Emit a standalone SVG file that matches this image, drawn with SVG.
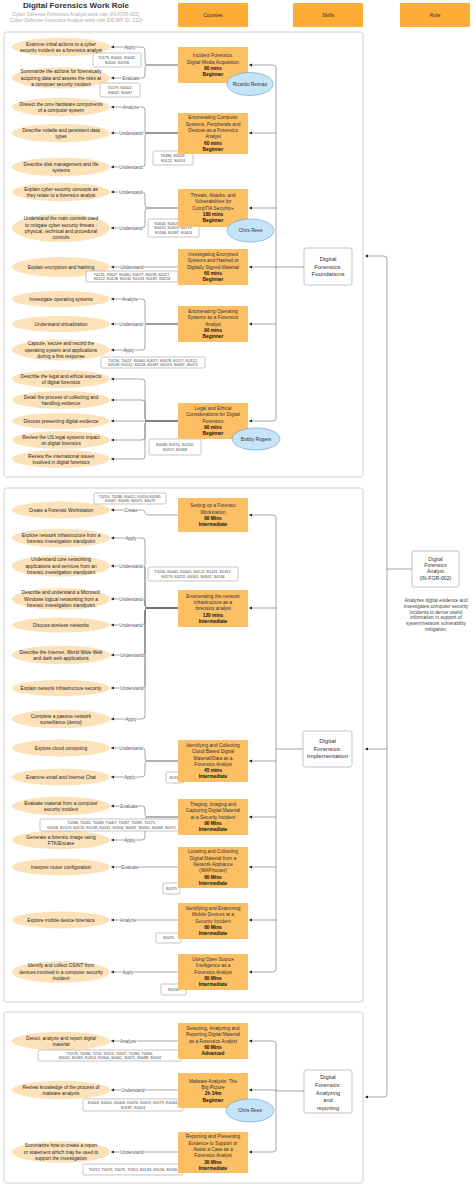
<svg xmlns="http://www.w3.org/2000/svg" width="474" height="1186" viewBox="0 0 474 1186">
<defs>
<marker id="ah" viewBox="0 0 6 6" refX="6" refY="3" markerWidth="3.2" markerHeight="3.2" markerUnits="userSpaceOnUse" orient="auto"><path d="M0,0 L6,3 L0,6 z" fill="#222"/></marker>
<style>
text{font-family:"Liberation Sans",Arial,sans-serif}
.title{font-size:8px;font-weight:bold;fill:#333;text-anchor:middle}
.sub{font-size:5px;fill:#aaa;text-anchor:middle}
.hdr{fill:#fdac35}
.hdrt{font-size:5.2px;fill:#333;text-anchor:middle}
.grp{fill:none;stroke:#c4c4c4;stroke-width:0.8}
.course{fill:#fcbf63}
.ct{font-size:4.8px;fill:#333;text-anchor:middle}
.b{font-weight:bold;fill:#111}
.oc{fill:#fde2b9}
.ot{font-size:4.8px;fill:#222;text-anchor:middle}
.lbl{font-size:4.5px;fill:#555;text-anchor:middle;paint-order:stroke;stroke:#fff;stroke-width:1.6px}
.kb{fill:#fff;stroke:#8a8a8a;stroke-width:0.5}
.kt{font-size:3.8px;fill:#444;text-anchor:middle}
.inst{fill:#c6e4f7;stroke:#5b9bd5;stroke-width:0.6}
.it{font-size:4.8px;fill:#333;text-anchor:middle}
.sk{fill:#fff;stroke:#9a9a9a;stroke-width:0.6}
.skt{font-size:6px;fill:#333;text-anchor:middle}
.rt{font-size:5.2px;fill:#333;text-anchor:middle}
.dt{font-size:4.8px;fill:#444;text-anchor:middle}
.c{fill:none;stroke:#6a6a6a;stroke-width:0.6}
.ca{fill:none;stroke:#6a6a6a;stroke-width:0.6;marker-end:url(#ah)}
</style>
</defs>
<rect width="474" height="1186" fill="#fff"/>

<g id="header">
<text class="title" x="76" y="7.8">Digital Forensics Work Role</text>
<text class="sub" x="76" y="15.7">Cyber Defense Forensics Analyst work role (IN-FOR-002)</text>
<text class="sub" x="76" y="22.4">Cyber Defense Forensics Analyst work role (DCWF ID: 212)</text>
<rect class="hdr" x="178" y="3" width="70" height="24" rx="1"/>
<text class="hdrt" x="213" y="16.8">Courses</text>
<rect class="hdr" x="293" y="3" width="70" height="24" rx="1"/>
<text class="hdrt" x="328" y="16.8">Skills</text>
<rect class="hdr" x="400" y="3" width="70" height="24" rx="1"/>
<text class="hdrt" x="435" y="16.8">Role</text>
</g>

<g id="containers">
<rect class="grp" x="4" y="32" width="359" height="445" rx="2.5"/>
<rect class="grp" x="4" y="488" width="359" height="514" rx="2.5"/>
<rect class="grp" x="4" y="1012" width="359" height="171" rx="2.5"/>
</g>

<g id="connectors">
<!-- course 1 -->
<path class="ca" d="M178,65 H148 Q145,65 145,62 V50 Q145,47 142,47 H111"/>
<path class="ca" d="M178,65 H148 Q145,65 145,68 V75 Q145,78 142,78 H111"/>
<!-- course 2 -->
<path class="ca" d="M178,133 H148 Q145,133 145,130 V110 Q145,107 142,107 H111"/>
<path class="ca" d="M178,133 H111"/>
<path class="ca" d="M178,133 H148 Q145,133 145,136 V164 Q145,167 142,167 H111"/>
<!-- course 3 -->
<path class="ca" d="M178,208 H148 Q145,208 145,205 V195 Q145,192 142,192 H111"/>
<path class="ca" d="M178,208 H148 Q145,208 145,211 V225 Q145,228 142,228 H111"/>
<!-- course 4 -->
<path class="ca" d="M178,267 H111"/>
<!-- course 5 -->
<path class="ca" d="M178,324 H148 Q145,324 145,321 V302 Q145,299 142,299 H111"/>
<path class="ca" d="M178,324 H111"/>
<path class="ca" d="M178,324 H148 Q145,324 145,327 V347 Q145,350 142,350 H111"/>
<!-- course 6 -->
<path class="ca" d="M178,421 H148 Q145,421 145,418 V382 Q145,379 142,379 H111"/>
<path class="ca" d="M178,421 H148 Q145,421 145,418 V403 Q145,400 142,400 H111"/>
<path class="ca" d="M178,421 H111"/>
<path class="ca" d="M178,421 H148 Q145,421 145,424 V437 Q145,440 142,440 H111"/>
<path class="ca" d="M178,421 H148 Q145,421 145,424 V456 Q145,459 142,459 H111"/>
<!-- course 7 -->
<path class="ca" d="M178,515 H150 Q145,515 145,512.5 Q145,510 140,510 H111"/>
<!-- course 8 -->
<path class="ca" d="M178,608 H148 Q145,608 145,605 V541 Q145,538 142,538 H111"/>
<path class="ca" d="M178,608 H148 Q145,608 145,605 V569 Q145,566 142,566 H111"/>
<path class="ca" d="M178,608 H148 Q145,608 145,605 V602 Q145,599 142,599 H111"/>
<path class="ca" d="M178,608 H148 Q145,608 145,611 V622 Q145,625 142,625 H111"/>
<path class="ca" d="M178,608 H148 Q145,608 145,611 V652 Q145,655 142,655 H111"/>
<path class="ca" d="M178,608 H148 Q145,608 145,611 V685 Q145,688 142,688 H111"/>
<path class="ca" d="M178,608 H148 Q145,608 145,611 V716 Q145,719 142,719 H111"/>
<!-- course 9 -->
<path class="ca" d="M178,761 H148 Q145,761 145,758 V751 Q145,748 142,748 H111"/>
<path class="ca" d="M178,761 H148 Q145,761 145,764 V774 Q145,777 142,777 H111"/>
<!-- course 10 -->
<path class="ca" d="M178,817 H148 Q145,817 145,814 V809 Q145,806 142,806 H111"/>
<path class="ca" d="M178,817 H148 Q145,817 145,820 V837 Q145,840 142,840 H111"/>
<!-- courses 11-16 -->
<path class="ca" d="M178,867 H111"/>
<path class="ca" d="M178,920 H111"/>
<path class="ca" d="M178,972 H111"/>
<path class="ca" d="M178,1041 H111"/>
<path class="ca" d="M178,1090 H111"/>
<path class="ca" d="M178,1152 H111"/>

<!-- labels -->
<text class="lbl" x="130" y="48.6">Apply</text>
<text class="lbl" x="131" y="79.6">Evaluate</text>
<text class="lbl" x="131" y="108.6">Analyze</text>
<text class="lbl" x="131" y="134.6">Understand</text>
<text class="lbl" x="131" y="168.6">Understand</text>
<text class="lbl" x="131" y="193.6">Understand</text>
<text class="lbl" x="131" y="229.6">Understand</text>
<text class="lbl" x="132" y="268.6">Understand</text>
<text class="lbl" x="130" y="300.6">Analyze</text>
<text class="lbl" x="131" y="325.6">Understand</text>
<text class="lbl" x="129" y="351.6">Apply</text>
<text class="lbl" x="131" y="511.6">Create</text>
<text class="lbl" x="131" y="539.6">Apply</text>
<text class="lbl" x="131" y="567.6">Understand</text>
<text class="lbl" x="131" y="600.6">Understand</text>
<text class="lbl" x="131" y="626.6">Understand</text>
<text class="lbl" x="132" y="656.6">Understand</text>
<text class="lbl" x="132" y="689.6">Understand</text>
<text class="lbl" x="131" y="720.6">Apply</text>
<text class="lbl" x="131" y="749.6">Understand</text>
<text class="lbl" x="130" y="778.6">Apply</text>
<text class="lbl" x="129" y="807.6">Evaluate</text>
<text class="lbl" x="130" y="841.6">Apply</text>
<text class="lbl" x="130" y="868.6">Evaluate</text>
<text class="lbl" x="128" y="921.6">Analyze</text>
<text class="lbl" x="128" y="973.6">Apply</text>
<text class="lbl" x="128" y="1042.6">Analyze</text>
<text class="lbl" x="133" y="1091.6">Understand</text>
<text class="lbl" x="132" y="1153.6">Understand</text>

<!-- skills to courses -->
<path class="c" d="M276,68 V418"/>
<path class="ca" d="M276,68 Q276,65 273,65 H249"/>
<path class="ca" d="M276,133 H249"/>
<path class="ca" d="M276,208 H249"/>
<path class="ca" d="M276,267 H249"/>
<path class="ca" d="M276,324 H249"/>
<path class="ca" d="M276,418 Q276,421 273,421 H249"/>
<path class="c" d="M304,267 H276"/>

<path class="c" d="M276,518 V969"/>
<path class="ca" d="M276,518 Q276,515 273,515 H249"/>
<path class="ca" d="M276,608 H249"/>
<path class="ca" d="M276,761 H249"/>
<path class="ca" d="M276,817 H249"/>
<path class="ca" d="M276,867 H249"/>
<path class="ca" d="M276,920 H249"/>
<path class="ca" d="M276,969 Q276,972 273,972 H249"/>
<path class="c" d="M303,749 H276"/>

<path class="c" d="M276,1044 V1149"/>
<path class="ca" d="M276,1044 Q276,1041 273,1041 H249"/>
<path class="ca" d="M276,1090 H249"/>
<path class="ca" d="M276,1149 Q276,1152 273,1152 H249"/>
<path class="c" d="M304,1091 H276"/>

<!-- role to skill groups -->
<path class="c" d="M387,259 V1094"/>
<path class="ca" d="M387,259 Q387,256 384,256 H365"/>
<path class="ca" d="M387,749 H365"/>
<path class="ca" d="M387,1094 Q387,1097 384,1097 H365"/>
<path class="c" d="M412,569 H387"/>
</g>

<g id="outcomes">
<g id="o1"><ellipse class="oc" cx="61" cy="47" rx="49" ry="9.2"/><text class="ot"><tspan x="61" y="45.55">Examine initial actions to a cyber</tspan><tspan x="61" y="51.85">security incident as a forensics analyst</tspan></text></g>
<g id="o2"><ellipse class="oc" cx="61" cy="78" rx="49" ry="10.5"/><text class="ot"><tspan x="61" y="73.4">Summarize the actions for forensically</tspan><tspan x="61" y="79.7">acquiring data and assess the risks at</tspan><tspan x="61" y="86">a computer security incident</tspan></text></g>
<g id="o3"><ellipse class="oc" cx="61" cy="107" rx="49" ry="9.2"/><text class="ot"><tspan x="61" y="105.55">Dissect the core hardware components</tspan><tspan x="61" y="111.85">of a computer system</tspan></text></g>
<g id="o4"><ellipse class="oc" cx="61" cy="133" rx="49" ry="9.2"/><text class="ot"><tspan x="61" y="131.55">Describe volatile and persistent data</tspan><tspan x="61" y="137.85">types</tspan></text></g>
<g id="o5"><ellipse class="oc" cx="61" cy="167" rx="49" ry="9.2"/><text class="ot"><tspan x="61" y="165.55">Describe disk management and file</tspan><tspan x="61" y="171.85">systems</tspan></text></g>
<g id="o6"><ellipse class="oc" cx="61" cy="192" rx="49" ry="9.2"/><text class="ot"><tspan x="61" y="190.55">Explain cyber security concepts as</tspan><tspan x="61" y="196.85">they relate to a forensics analyst</tspan></text></g>
<g id="o7"><ellipse class="oc" cx="61" cy="228" rx="49" ry="14"/><text class="ot"><tspan x="61" y="220.25">Understand the main controls used</tspan><tspan x="61" y="226.55">to mitigate cyber security threats -</tspan><tspan x="61" y="232.85">physical, technical and procedural</tspan><tspan x="61" y="239.15">controls</tspan></text></g>
<g id="o8"><ellipse class="oc" cx="61" cy="267" rx="49" ry="10"/><text class="ot" x="61" y="268.7">Explain encryption and hashing</text></g>
<g id="o9"><ellipse class="oc" cx="61" cy="299" rx="49" ry="8.2"/><text class="ot" x="61" y="300.7">Investigate operating systems</text></g>
<g id="o10"><ellipse class="oc" cx="61" cy="324" rx="49" ry="8.2"/><text class="ot" x="61" y="325.7">Understand virtualization</text></g>
<g id="o11"><ellipse class="oc" cx="61" cy="350" rx="49" ry="10.5"/><text class="ot"><tspan x="61" y="345.4">Capture, secure and record the</tspan><tspan x="61" y="351.7">operating system and applications</tspan><tspan x="61" y="358">during a first response</tspan></text></g>
<g id="o12"><ellipse class="oc" cx="61" cy="379" rx="49" ry="9"/><text class="ot"><tspan x="61" y="377.55">Describe the legal and ethical aspects</tspan><tspan x="61" y="383.85">of digital forensics</tspan></text></g>
<g id="o13"><ellipse class="oc" cx="61" cy="400" rx="49" ry="9"/><text class="ot"><tspan x="61" y="398.55">Detail the process of collecting and</tspan><tspan x="61" y="404.85">handling evidence</tspan></text></g>
<g id="o14"><ellipse class="oc" cx="61" cy="421" rx="49" ry="8"/><text class="ot" x="61" y="422.7">Discuss presenting digital evidence</text></g>
<g id="o15"><ellipse class="oc" cx="61" cy="440" rx="49" ry="9"/><text class="ot"><tspan x="61" y="438.55">Review the US legal systems impact</tspan><tspan x="61" y="444.85">on digital forensics</tspan></text></g>
<g id="o16"><ellipse class="oc" cx="61" cy="459" rx="49" ry="9"/><text class="ot"><tspan x="61" y="457.55">Review the international issues</tspan><tspan x="61" y="463.85">involved in digital forensics</tspan></text></g>

<g id="o17"><ellipse class="oc" cx="61" cy="510" rx="49" ry="8.5"/><text class="ot" x="61" y="511.7">Create a Forensic Workstation</text></g>
<g id="o18"><ellipse class="oc" cx="61" cy="538" rx="49" ry="9.2"/><text class="ot"><tspan x="61" y="536.55">Explore network infrastructure from a</tspan><tspan x="61" y="542.85">forensic investigation standpoint</tspan></text></g>
<g id="o19"><ellipse class="oc" cx="61" cy="566" rx="49" ry="10.8"/><text class="ot"><tspan x="61" y="561.4">Understand core networking</tspan><tspan x="61" y="567.7">applications and services from an</tspan><tspan x="61" y="574">forensic investigation standpoint</tspan></text></g>
<g id="o20"><ellipse class="oc" cx="61" cy="599" rx="49" ry="10.8"/><text class="ot"><tspan x="61" y="594.4">Describe and understand a Microsoft</tspan><tspan x="61" y="600.7">Windows logical networking from a</tspan><tspan x="61" y="607">forensic investigation standpoint</tspan></text></g>
<g id="o21"><ellipse class="oc" cx="61" cy="625" rx="49" ry="7.5"/><text class="ot" x="61" y="626.7">Discuss wireless networks</text></g>
<g id="o22"><ellipse class="oc" cx="61" cy="655" rx="49" ry="9.2"/><text class="ot"><tspan x="61" y="653.55">Describe the Internet, World Wide Web</tspan><tspan x="61" y="659.85">and dark web applications</tspan></text></g>
<g id="o23"><ellipse class="oc" cx="61" cy="688" rx="49" ry="8.2"/><text class="ot" x="61" y="689.7">Explain network infrastructure security</text></g>
<g id="o24"><ellipse class="oc" cx="61" cy="719" rx="49" ry="9.2"/><text class="ot"><tspan x="61" y="717.55">Complete a passive network</tspan><tspan x="61" y="723.85">surveillance (demo)</tspan></text></g>
<g id="o25"><ellipse class="oc" cx="61" cy="748" rx="49" ry="8.5"/><text class="ot" x="61" y="749.7">Explore cloud computing</text></g>
<g id="o26"><ellipse class="oc" cx="61" cy="777" rx="49" ry="8.5"/><text class="ot" x="61" y="778.7">Examine email and Internet Chat</text></g>
<g id="o27"><ellipse class="oc" cx="61" cy="806" rx="49" ry="9.2"/><text class="ot"><tspan x="61" y="804.55">Evaluate material from a computer</tspan><tspan x="61" y="810.85">security incident</tspan></text></g>
<g id="o28"><ellipse class="oc" cx="61" cy="840" rx="49" ry="9.2"/><text class="ot"><tspan x="61" y="838.55">Generate a forensic image using</tspan><tspan x="61" y="844.85">FTK/Encase</tspan></text></g>
<g id="o29"><ellipse class="oc" cx="61" cy="867" rx="49" ry="8.5"/><text class="ot" x="61" y="868.7">Interpret router configuration</text></g>
<g id="o30"><ellipse class="oc" cx="61" cy="920" rx="49" ry="8.5"/><text class="ot" x="61" y="921.7">Explore mobile device forensics</text></g>
<g id="o31"><ellipse class="oc" cx="61" cy="972" rx="49" ry="10.8"/><text class="ot"><tspan x="61" y="967.4">Identify and collect OSINT from</tspan><tspan x="61" y="973.7">devices involved in a computer security</tspan><tspan x="61" y="980">incident</tspan></text></g>

<g id="o32"><ellipse class="oc" cx="61" cy="1041" rx="49" ry="9.2"/><text class="ot"><tspan x="61" y="1039.55">Detect, analyze and report digital</tspan><tspan x="61" y="1045.85">material</tspan></text></g>
<g id="o33"><ellipse class="oc" cx="61" cy="1090" rx="49" ry="9.2"/><text class="ot"><tspan x="61" y="1088.55">Review knowledge of the process of</tspan><tspan x="61" y="1094.85">malware analysis</tspan></text></g>
<g id="o34"><ellipse class="oc" cx="61" cy="1152" rx="49" ry="10.8"/><text class="ot"><tspan x="61" y="1147.4">Summarize how to create a report</tspan><tspan x="61" y="1153.7">or statement which may be used to</tspan><tspan x="61" y="1160">support the investigation</tspan></text></g>
</g>

<g id="knowledge">
<g id="k1"><rect class="kb" x="93" y="53" width="48" height="14" rx="1.5"/><text class="kt"><tspan x="117" y="59.1">T0179, K0005, K0042,</tspan><tspan x="117" y="63.6">K0505, K0196</tspan></text></g>
<g id="k2"><rect class="kb" x="100" y="83" width="40" height="14" rx="1.5"/><text class="kt"><tspan x="120" y="89.1">T0179, K0002,</tspan><tspan x="120" y="93.6">K0042, S0047</tspan></text></g>
<g id="k3"><rect class="kb" x="153" y="151" width="40" height="14" rx="1.5"/><text class="kt"><tspan x="173" y="157.1">T0286, K0109,</tspan><tspan x="173" y="161.6">K0122, S0074</tspan></text></g>
<g id="k4"><rect class="kb" x="148" y="219" width="51" height="18" rx="1.5"/><text class="kt"><tspan x="173.5" y="224.85">K0004, K0005, K0006,</tspan><tspan x="173.5" y="229.35">K0070, K0119, K0179,</tspan><tspan x="173.5" y="233.85">K0184, K0187, K0624</tspan></text></g>
<g id="k5"><rect class="kb" x="86" y="271" width="92" height="11" rx="1.5"/><text class="kt"><tspan x="132" y="275.6">T0216, T0027, K0060, K0077, K0078, K0117,</tspan><tspan x="132" y="280.1">K0122, K0128, K0130, K0133, K0187, K0224</tspan></text></g>
<g id="k6"><rect class="kb" x="101" y="357" width="104" height="11" rx="1.5"/><text class="kt"><tspan x="153" y="361.6">T0216, T0027, K0060, K0077, K0078, K0117, K0122,</tspan><tspan x="153" y="366.1">K0128, K0132, K0133, K0187, K0224, S0067, S0075</tspan></text></g>
<g id="k7"><rect class="kb" x="149" y="439" width="52" height="16" rx="1.5"/><text class="kt"><tspan x="175" y="446.1">K0068, K0155, K0156,</tspan><tspan x="175" y="450.6">K0157, K0168</tspan></text></g>
<g id="k8"><rect class="kb" x="94" y="493" width="72" height="11" rx="1.5"/><text class="kt"><tspan x="130" y="497.6">T0214, T0286, K0021, K0134,K0185,</tspan><tspan x="130" y="502.1">K0347, S0069, S0071, S0075</tspan></text></g>
<g id="k9"><rect class="kb" x="148" y="567" width="90" height="14" rx="1.5"/><text class="kt"><tspan x="193" y="573.1">T0240, K0001, K0005, K0122, K0131, K0167,</tspan><tspan x="193" y="577.6">K0179, K0255, K0301, S0032, S0136</tspan></text></g>
<g id="k10"><rect class="kb" x="166" y="772" width="18" height="11" rx="1.5"/><text class="kt" x="175" y="778.85">K0131</text></g>
<g id="k11"><rect class="kb" x="40" y="819" width="143" height="12" rx="1.5"/><text class="kt"><tspan x="111.5" y="824.1">T0286, T0241, T0048, T0067, T0287, T0289, T0175,</tspan><tspan x="111.5" y="828.6">K0118, K0123, K0125, K0128, K0132, K0304, S0047, S0065, S0068, S0071</tspan></text></g>
<g id="k12"><rect class="kb" x="163" y="883" width="17" height="11" rx="1.5"/><text class="kt" x="171.5" y="889.85">K0179</text></g>
<g id="k13"><rect class="kb" x="156" y="933" width="25" height="10" rx="1.5"/><text class="kt" x="168.5" y="939.35">S0075</text></g>
<g id="k14"><rect class="kb" x="161" y="984" width="25" height="11" rx="1.5"/><text class="kt" x="173.5" y="990.85">S0133</text></g>
<g id="k15"><rect class="kb" x="38" y="1050" width="144" height="11" rx="1.5"/><text class="kt"><tspan x="110" y="1054.6">T0179, T0286, T253, T0113, T0167, T0286, T0396,</tspan><tspan x="110" y="1059.1">K0042, K0182, K0254, K0304, S0062, S0071, S0088, S0132</tspan></text></g>
<g id="k16"><rect class="kb" x="83" y="1099" width="100" height="12" rx="1.5"/><text class="kt"><tspan x="133" y="1104.1">K0004, K0005, K0006, K0070, K0119, K0179, K0184,</tspan><tspan x="133" y="1108.6">K0187, K0624</tspan></text></g>
<g id="k17"><rect class="kb" x="83" y="1164" width="100" height="11" rx="1.5"/><text class="kt" x="133" y="1170.85">T0212, T0179, T0075, T0312, K0133, K0156, S0130</text></g>
</g>

<g id="courses">
<g id="c1"><rect class="course" x="178" y="47" width="70" height="36"/><text class="ct"><tspan x="213" y="57.2">Incident Forensics:</tspan><tspan x="213" y="63.5">Digital Media Acquisition</tspan><tspan class="b" x="213" y="69.8">90 mins</tspan><tspan class="b" x="213" y="76.1">Beginner</tspan></text></g>
<g id="c2"><rect class="course" x="178" y="113" width="70" height="41"/><text class="ct"><tspan x="213" y="119.45">Enumerating Computer</tspan><tspan x="213" y="125.75">Systems, Peripherals and</tspan><tspan x="213" y="132.05">Devices as a Forensics</tspan><tspan x="213" y="138.35">Analyst</tspan><tspan class="b" x="213" y="144.65">60 mins</tspan><tspan class="b" x="213" y="150.95">Beginner</tspan></text></g>
<g id="c3"><rect class="course" x="178" y="189" width="70" height="38"/><text class="ct"><tspan x="213" y="197.1">Threats, Attacks, and</tspan><tspan x="213" y="203.4">Vulnerabilities for</tspan><tspan x="213" y="209.7">CompTIA Security+</tspan><tspan class="b" x="213" y="216">180 mins</tspan><tspan class="b" x="213" y="222.3">Beginner</tspan></text></g>
<g id="c4"><rect class="course" x="178" y="249" width="70" height="36"/><text class="ct"><tspan x="213" y="256.1">Investigating Encrypted</tspan><tspan x="213" y="262.4">Systems and Hashed or</tspan><tspan x="213" y="268.7">Digitally Signed Material</tspan><tspan class="b" x="213" y="275">60 mins</tspan><tspan class="b" x="213" y="281.3">Beginner</tspan></text></g>
<g id="c5"><rect class="course" x="178" y="306" width="70" height="36"/><text class="ct"><tspan x="213" y="313.1">Enumerating Operating</tspan><tspan x="213" y="319.4">Systems as a Forensics</tspan><tspan x="213" y="325.7">Analyst</tspan><tspan class="b" x="213" y="332">90 mins</tspan><tspan class="b" x="213" y="338.3">Beginner</tspan></text></g>
<g id="c6"><rect class="course" x="178" y="403" width="70" height="36"/><text class="ct"><tspan x="213" y="410.1">Legal and Ethical</tspan><tspan x="213" y="416.4">Considerations for Digital</tspan><tspan x="213" y="422.7">Forensics</tspan><tspan class="b" x="213" y="429">90 mins</tspan><tspan class="b" x="213" y="435.3">Beginner</tspan></text></g>
<g id="c7"><rect class="course" x="178" y="498" width="70" height="34"/><text class="ct"><tspan x="213" y="507.25">Setting up a Forensic</tspan><tspan x="213" y="513.55">Workstation</tspan><tspan class="b" x="213" y="519.85">60 Mins</tspan><tspan class="b" x="213" y="526.15">Intermediate</tspan></text></g>
<g id="c8"><rect class="course" x="178" y="590" width="70" height="37"/><text class="ct"><tspan x="213" y="597.6">Enumerating the network</tspan><tspan x="213" y="603.9">infrastructure as a</tspan><tspan x="213" y="610.2">forensics analyst</tspan><tspan class="b" x="213" y="616.5">120 mins</tspan><tspan class="b" x="213" y="622.8">Intermediate</tspan></text></g>
<g id="c9"><rect class="course" x="178" y="740" width="70" height="42"/><text class="ct"><tspan x="213" y="746.95">Identifying and Collecting</tspan><tspan x="213" y="753.25">Cloud Based Digital</tspan><tspan x="213" y="759.55">Material/Data as a</tspan><tspan x="213" y="765.85">Forensics Analyst</tspan><tspan class="b" x="213" y="772.15">45 mins</tspan><tspan class="b" x="213" y="778.45">Intermediate</tspan></text></g>
<g id="c10"><rect class="course" x="178" y="799" width="70" height="36"/><text class="ct"><tspan x="213" y="806.1">Triaging, Imaging and</tspan><tspan x="213" y="812.4">Capturing Digital Material</tspan><tspan x="213" y="818.7">at a Security Incident</tspan><tspan class="b" x="213" y="825">90 Mins</tspan><tspan class="b" x="213" y="831.3">Intermediate</tspan></text></g>
<g id="c11"><rect class="course" x="178" y="847" width="70" height="41"/><text class="ct"><tspan x="213" y="853.45">Locating and Collecting</tspan><tspan x="213" y="859.75">Digital Material from a</tspan><tspan x="213" y="866.05">Network Appliance</tspan><tspan x="213" y="872.35">(WAP/router)</tspan><tspan class="b" x="213" y="878.65">60 Mins</tspan><tspan class="b" x="213" y="884.95">Intermediate</tspan></text></g>
<g id="c12"><rect class="course" x="178" y="903" width="70" height="36"/><text class="ct"><tspan x="213" y="910.1">Identifying and Examining</tspan><tspan x="213" y="916.4">Mobile Devices at a</tspan><tspan x="213" y="922.7">Security Incident</tspan><tspan class="b" x="213" y="929">60 Mins</tspan><tspan class="b" x="213" y="935.3">Intermediate</tspan></text></g>
<g id="c13"><rect class="course" x="178" y="954" width="70" height="36"/><text class="ct"><tspan x="213" y="961.1">Using Open Source</tspan><tspan x="213" y="967.4">Intelligence as a</tspan><tspan x="213" y="973.7">Forensics Analyst</tspan><tspan class="b" x="213" y="980">60 Mins</tspan><tspan class="b" x="213" y="986.3">Intermediate</tspan></text></g>
<g id="c14"><rect class="course" x="178" y="1023" width="70" height="36"/><text class="ct"><tspan x="213" y="1030.1">Detecting, Analyzing and</tspan><tspan x="213" y="1036.4">Reporting Digital Material</tspan><tspan x="213" y="1042.7">as a Forensics Analyst</tspan><tspan class="b" x="213" y="1049">60 Mins</tspan><tspan class="b" x="213" y="1055.3">Advanced</tspan></text></g>
<g id="c15"><rect class="course" x="178" y="1073" width="70" height="35"/><text class="ct"><tspan x="213" y="1082.75">Malware Analysis: The</tspan><tspan x="213" y="1089.05">Big Picture</tspan><tspan class="b" x="213" y="1095.35">2h 14m</tspan><tspan class="b" x="213" y="1101.65">Beginner</tspan></text></g>
<g id="c16"><rect class="course" x="178" y="1132" width="70" height="41"/><text class="ct"><tspan x="213" y="1138.45">Reporting and Presenting</tspan><tspan x="213" y="1144.75">Evidence to Support or</tspan><tspan x="213" y="1151.05">Assist a Case as a</tspan><tspan x="213" y="1157.35">Forensics Analyst</tspan><tspan class="b" x="213" y="1163.65">30 Mins</tspan><tspan class="b" x="213" y="1169.95">Intermediate</tspan></text></g>
</g>

<g id="instructors">
<g id="i1"><ellipse class="inst" cx="250" cy="84" rx="23" ry="11.5"/><text class="it" x="250" y="85.7">Ricardo Reimao</text></g>
<g id="i2"><ellipse class="inst" cx="250.5" cy="230.5" rx="23.5" ry="11.5"/><text class="it" x="250.5" y="232.2">Chris Rees</text></g>
<g id="i3"><ellipse class="inst" cx="256" cy="439" rx="24" ry="11"/><text class="it" x="256" y="440.7">Bobby Rogers</text></g>
<g id="i4"><ellipse class="inst" cx="250" cy="1110.5" rx="24" ry="11.5"/><text class="it" x="250" y="1112.2">Chris Rees</text></g>
</g>

<g id="skills">
<g id="s1"><rect class="sk" x="304" y="248" width="48" height="37" rx="2"/><text class="skt"><tspan x="328" y="261">Digital</tspan><tspan x="328" y="268.5">Forensics:</tspan><tspan x="328" y="276">Foundations</tspan></text></g>
<g id="s2"><rect class="sk" x="303" y="731" width="49" height="36" rx="2"/><text class="skt"><tspan x="327.5" y="743">Digital</tspan><tspan x="327.5" y="750.5">Forensics:</tspan><tspan x="327.5" y="758">Implementation</tspan></text></g>
<g id="s3"><rect class="sk" x="304" y="1070" width="48" height="43" rx="2"/><text class="skt" style="font-size:5.6px"><tspan x="328" y="1079">Digital</tspan><tspan x="328" y="1086.8">Forensics:</tspan><tspan x="328" y="1094.6">Analyzing</tspan><tspan x="328" y="1102.4">and</tspan><tspan x="328" y="1110.2">reporting</tspan></text></g>
</g>

<g id="role">
<rect class="sk" x="412" y="551" width="47" height="36" rx="2"/>
<text class="rt"><tspan x="435.5" y="560.8">Digital</tspan><tspan x="435.5" y="567.1">Forensics</tspan><tspan x="435.5" y="573.4">Analyst</tspan><tspan x="435.5" y="579.7">(IN-FOR-002)</tspan></text>
<text class="dt"><tspan x="436" y="601.7">Analyzes digital evidence and</tspan><tspan x="436" y="607.6">investigates computer security</tspan><tspan x="436" y="613.5">incidents to derive useful</tspan><tspan x="436" y="619.4">information in support of</tspan><tspan x="436" y="625.3">system/network vulnerability</tspan><tspan x="436" y="631.2">mitigation.</tspan></text>
</g>
</svg>
